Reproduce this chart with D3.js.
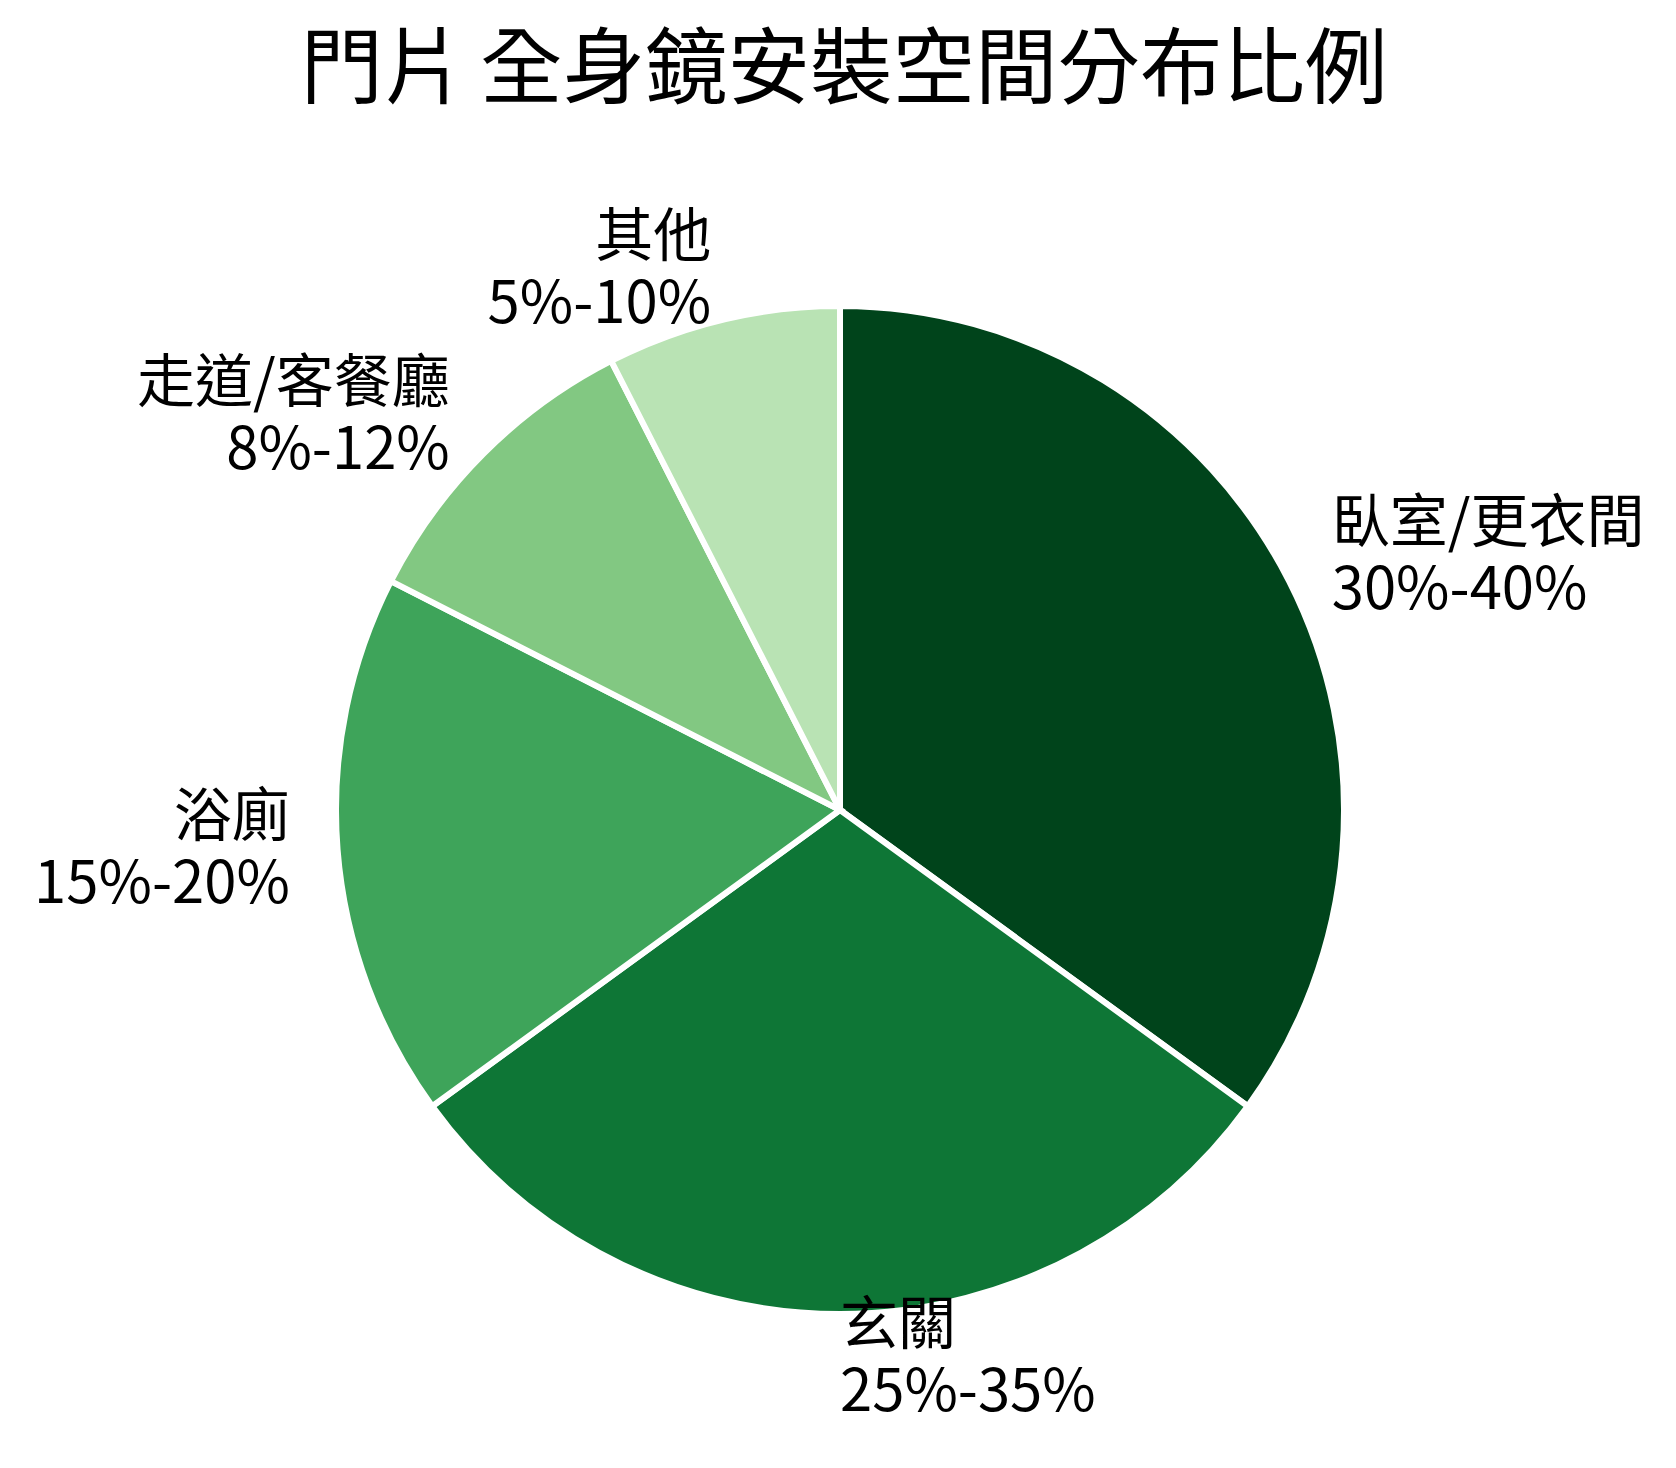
<!DOCTYPE html>
<html>
<head>
<meta charset="utf-8">
<script src="https://cdn.jsdelivr.net/npm/d3@7"></script>
<style>
  body { margin: 0; background: #fff; }
  text { font-family: "Noto Sans CJK TC", "Noto Sans CJK SC", sans-serif; fill: #000; }
</style>
</head>
<body>
<div id="chart-container"></div>
<script>
// chart data
const titleText = "門片 全身鏡安裝空間分布比例";
const categories = ["臥室/更衣間", "玄關", "浴廁", "走道/客餐廳", "其他"];
const rangeLabels = ["30%-40%", "25%-35%", "15%-20%", "8%-12%", "5%-10%"];
const values = [35, 30, 17.5, 10, 7.5];
const colors = ["#00441b", "#0e7636", "#3ea45a", "#82c882", "#b9e3b4"];

const width = 1676;
const height = 1468;
const cx = 840;
const cy = 810;
const radius = 504;

const svg = d3.select("#chart-container")
    .append("svg")
    .attr("width", width)
    .attr("height", height);

// Title
svg.append("text")
    .attr("x", cx + 4)
    .attr("y", 97)
    .attr("text-anchor", "middle")
    .attr("font-size", 82.5)
    .attr("word-spacing", -4)
    .text(titleText);

const data = categories.map((c, i) => ({ name: c, range: rangeLabels[i], value: values[i] }));

const pie = d3.pie()
    .sort(null)
    .value((d) => d.value);

const arcs = pie(data);

const arc = d3.arc()
    .innerRadius(0)
    .outerRadius(radius);

// labels sit a bit outside the pie
const labelArc = d3.arc()
    .innerRadius(radius * 1.095)
    .outerRadius(radius * 1.095);

const colorScale = d3.scaleOrdinal()
    .domain(categories)
    .range(colors);

const g = svg.append("g")
    .attr("transform", `translate(${cx}, ${cy})`);

// Slices
g.selectAll("path")
    .data(arcs)
    .enter()
    .append("path")
    .attr("d", arc)
    .attr("fill", (d) => colorScale(d.data.name))
    .attr("stroke", "#fff")
    .attr("stroke-width", 6);

// Labels, two lines each
const labels = g.selectAll("text.label")
    .data(arcs)
    .enter()
    .append("text")
    .attr("class", "label")
    .attr("font-size", 58)
    .attr("transform", (d) => `translate(${labelArc.centroid(d)})`)
    .attr("text-anchor", (d) => {
        const mid = (d.startAngle + d.endAngle) / 2;
        return mid <= Math.PI + 1e-6 ? "start" : "end";
    });

labels.append("tspan")
    .attr("x", 0)
    .attr("dy", "-0.3em")
    .text((d) => d.data.name);

labels.append("tspan")
    .attr("x", 0)
    .attr("dy", "1.15em")
    .text((d) => d.data.range);
</script>
</body>
</html>
